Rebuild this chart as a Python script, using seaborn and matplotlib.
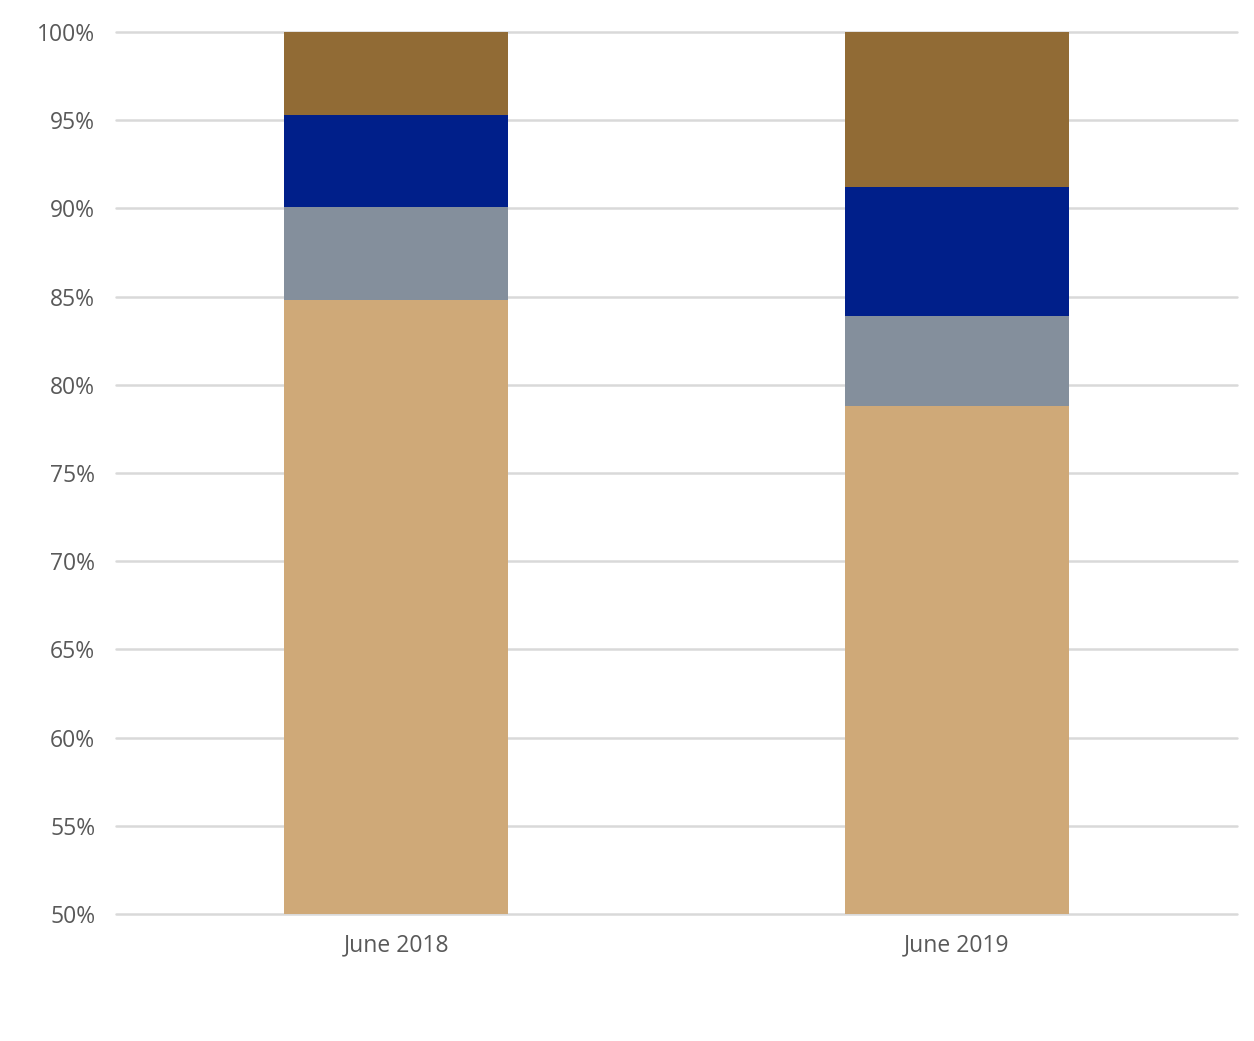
import numpy as np
import pandas as pd
import matplotlib as mpl
mpl.use('Agg')
import matplotlib.pyplot as plt
import seaborn as sns

# shares per period, bottom to top
periods = ['June 2018', 'June 2019']
tan = [84.8, 78.8]
grey = [5.3, 5.1]
blue = [5.2, 7.3]
brown = [4.7, 8.8]

layers = ['tan', 'grey', 'blue', 'brown']
colors = {'tan': '#CFA978', 'grey': '#848F9C', 'blue': '#001F8A', 'brown': '#916B35'}

df = pd.DataFrame({'period': periods, 'tan': tan, 'grey': grey, 'blue': blue, 'brown': brown})
cum = df[layers].cumsum(axis=1)

sns.set_style('white')
plt.rcParams['font.family'] = ['Open Sans', 'DejaVu Sans']

fig = plt.figure(figsize=(12.54, 10.41), dpi=100)
ax = fig.add_axes([116/1254, 1 - 914/1041, (1237-116)/1254, (914-32)/1041])

# draw the tallest cumulative first so lower layers sit on top
for layer in reversed(layers):
    sns.barplot(x=df['period'], y=cum[layer], color=colors[layer], width=0.4,
                saturation=1, ax=ax, zorder=3, edgecolor='none')

ax.set_ylim(50, 100)
ax.set_xlim(-0.5, 1.5)
ax.set_yticks(np.arange(50, 101, 5))
ax.set_yticklabels([f'{v}%' for v in range(50, 101, 5)])
ax.yaxis.grid(True, color='#D9D9D9', linewidth=1.8, zorder=0)
for gl in ax.get_ygridlines():
    gl.set_clip_on(False)
ax.set_axisbelow(True)
for s in ax.spines.values():
    s.set_visible(False)
ax.tick_params(axis='both', length=0, labelsize=16.5, colors='#595959')
ax.tick_params(axis='x', pad=14)
ax.tick_params(axis='y', pad=15)
ax.set_xlabel('')
ax.set_ylabel('')

fig.savefig('out.png', dpi=100, facecolor='white')
